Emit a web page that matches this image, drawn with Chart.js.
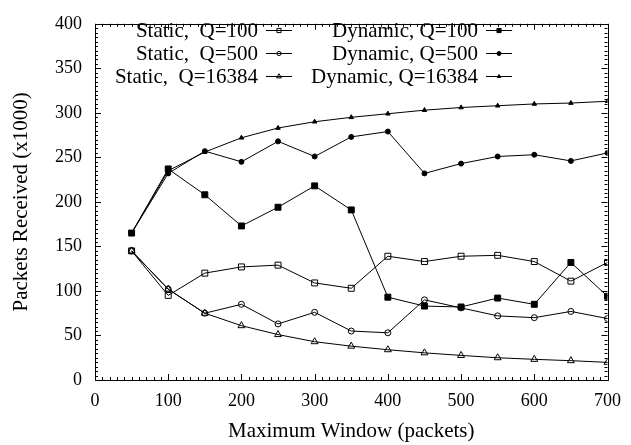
<!DOCTYPE html>
<html lang="en">
<head>
  <meta charset="UTF-8">
  <title>Packets Received vs Maximum Window</title>
  <script src="https://cdn.jsdelivr.net/npm/chart.js"></script>
  <style>
    html, body { margin: 0; padding: 0; background: #fff; }
    #wrap { width: 631px; height: 445px; position: relative; }
  </style>
</head>
<body>
  <div id="wrap"><canvas id="chart" width="631" height="445"></canvas></div>

  <script>
    // x values (maximum window, packets)
    const windows = [50, 100, 150, 200, 250, 300, 350, 400, 450, 500, 550, 600, 650, 700];

    // packets received (x1000)
    const staticQ100   = [145, 95, 120, 127, 129, 109, 103, 139, 133, 139, 140, 133, 111, 132];
    const staticQ500   = [145, 102, 75, 85, 63, 76, 55, 53, 90, 81, 72, 70, 77, 69];
    const staticQ16384 = [145, 102, 75, 61, 51, 43, 38, 34, 30.5, 27.6, 25, 23.2, 21.7, 19.8];
    const dynamicQ100   = [165, 237, 208, 173, 194, 218, 191, 93, 83, 82, 92, 85, 132, 94];
    const dynamicQ500   = [165, 232, 257, 245, 268, 251, 273, 279, 232, 243, 251, 253, 246, 255];
    const dynamicQ16384 = [165, 235, 256, 272, 283, 290, 295, 299, 303, 306, 308, 310, 311, 313];

    const seriesLabels = ['Static,  Q=100', 'Static,  Q=500', 'Static,  Q=16384',
                          'Dynamic, Q=100', 'Dynamic, Q=500', 'Dynamic, Q=16384'];

    const FONT = '"Liberation Serif", "Times New Roman", serif';

    function pts(ys) {
      return ys.map((y, i) => ({ x: windows[i], y: y }));
    }

    function series(label, ys, style, radius, filled) {
      return {
        label: label,
        data: pts(ys),
        borderColor: '#000',
        borderWidth: 1,
        pointStyle: style,
        pointRadius: radius,
        pointHoverRadius: radius,
        pointBorderWidth: 1,
        pointBorderColor: '#000',
        pointBackgroundColor: filled ? '#000' : 'rgba(0,0,0,0)',
        tension: 0,
        fill: false
      };
    }

    // inward ticks on all four sides + box, like gnuplot
    const frame = {
      id: 'frame',
      afterDatasetsDraw(chart) {
        const { ctx, chartArea: a, scales } = chart;
        ctx.save();
        ctx.strokeStyle = '#000';
        ctx.lineWidth = 1;
        ctx.beginPath();
        for (let v = 0; v <= 700; v += 10) {
          const px = Math.round(scales.x.getPixelForValue(v)) + 0.5;
          const len = v % 100 === 0 ? 6 : 3;
          ctx.moveTo(px, a.bottom); ctx.lineTo(px, a.bottom - len);
          ctx.moveTo(px, a.top); ctx.lineTo(px, a.top + len);
        }
        for (let v = 0; v <= 400; v += 5) {
          const py = Math.round(scales.y.getPixelForValue(v)) + 0.5;
          const len = v % 50 === 0 ? 6 : 3;
          ctx.moveTo(a.left, py); ctx.lineTo(a.left + len, py);
          ctx.moveTo(a.right, py); ctx.lineTo(a.right - len, py);
        }
        ctx.stroke();
        ctx.strokeRect(Math.round(a.left) + 0.5, Math.round(a.top) + 0.5,
                       Math.round(a.right - a.left), Math.round(a.bottom - a.top));
        ctx.restore();
      }
    };

    // two-column key, text right-aligned before the sample
    const key = {
      id: 'key',
      afterDatasetsDraw(chart) {
        const ctx = chart.ctx;
        const cols = [{ textRight: 258, x0: 266, x1: 292 }, { textRight: 478, x0: 486, x1: 512 }];
        const rows = [30, 53, 76];
        ctx.save();
        ctx.font = '21px ' + FONT;
        ctx.fillStyle = '#000';
        ctx.textAlign = 'right';
        ctx.textBaseline = 'middle';
        chart.data.datasets.forEach((ds, i) => {
          const c = cols[Math.floor(i / 3)];
          const y = rows[i % 3];
          ctx.fillText(ds.label, c.textRight, y + 1);
          ctx.strokeStyle = '#000';
          ctx.lineWidth = 1;
          ctx.beginPath();
          ctx.moveTo(c.x0, y + 0.5); ctx.lineTo(c.x1, y + 0.5);
          ctx.stroke();
          const opts = {
            pointStyle: ds.pointStyle,
            radius: Math.max(2, ds.pointRadius * 0.7),
            rotation: 0,
            borderWidth: 1
          };
          ctx.fillStyle = ds.pointBackgroundColor;
          ctx.strokeStyle = '#000';
          Chart.helpers.drawPoint(ctx, opts, (c.x0 + c.x1) / 2, y + 0.5);
          ctx.fillStyle = '#000';
        });
        ctx.restore();
      }
    };

    new Chart(document.getElementById('chart'), {
      type: 'line',
      data: {
        datasets: [
          series(seriesLabels[0], staticQ100, 'rect', 4.2, false),
          series(seriesLabels[1], staticQ500, 'circle', 3, false),
          series(seriesLabels[2], staticQ16384, 'triangle', 4, false),
          series(seriesLabels[3], dynamicQ100, 'rect', 4.2, true),
          series(seriesLabels[4], dynamicQ500, 'circle', 2.5, true),
          series(seriesLabels[5], dynamicQ16384, 'triangle', 2.6, true)
        ]
      },
      options: {
        responsive: false,
        animation: false,
        layout: { padding: { top: 18, right: 22, left: 0, bottom: 0 } },
        plugins: { legend: { display: false }, tooltip: { enabled: false } },
        scales: {
          x: {
            type: 'linear',
            min: 0, max: 700,
            grid: { display: false, drawTicks: false },
            border: { display: false },
            ticks: { stepSize: 100, padding: 10, color: '#000', font: { family: FONT, size: 18 } },
            title: { display: true, text: 'Maximum Window (packets)', color: '#000',
                     font: { family: FONT, size: 21 }, padding: { top: 0, bottom: 1 } },
            afterFit(s) { s.height = 65; }
          },
          y: {
            min: 0, max: 400,
            grid: { display: false, drawTicks: false },
            border: { display: false },
            ticks: { stepSize: 50, padding: 13, color: '#000', font: { family: FONT, size: 18 } },
            title: { display: true, text: 'Packets Received (x1000)', color: '#000',
                     font: { family: FONT, size: 21 }, padding: { top: 9, bottom: 0 } },
            afterFit(s) { s.width = 95; }
          }
        }
      },
      plugins: [frame, key]
    });
  </script>
</body>
</html>
